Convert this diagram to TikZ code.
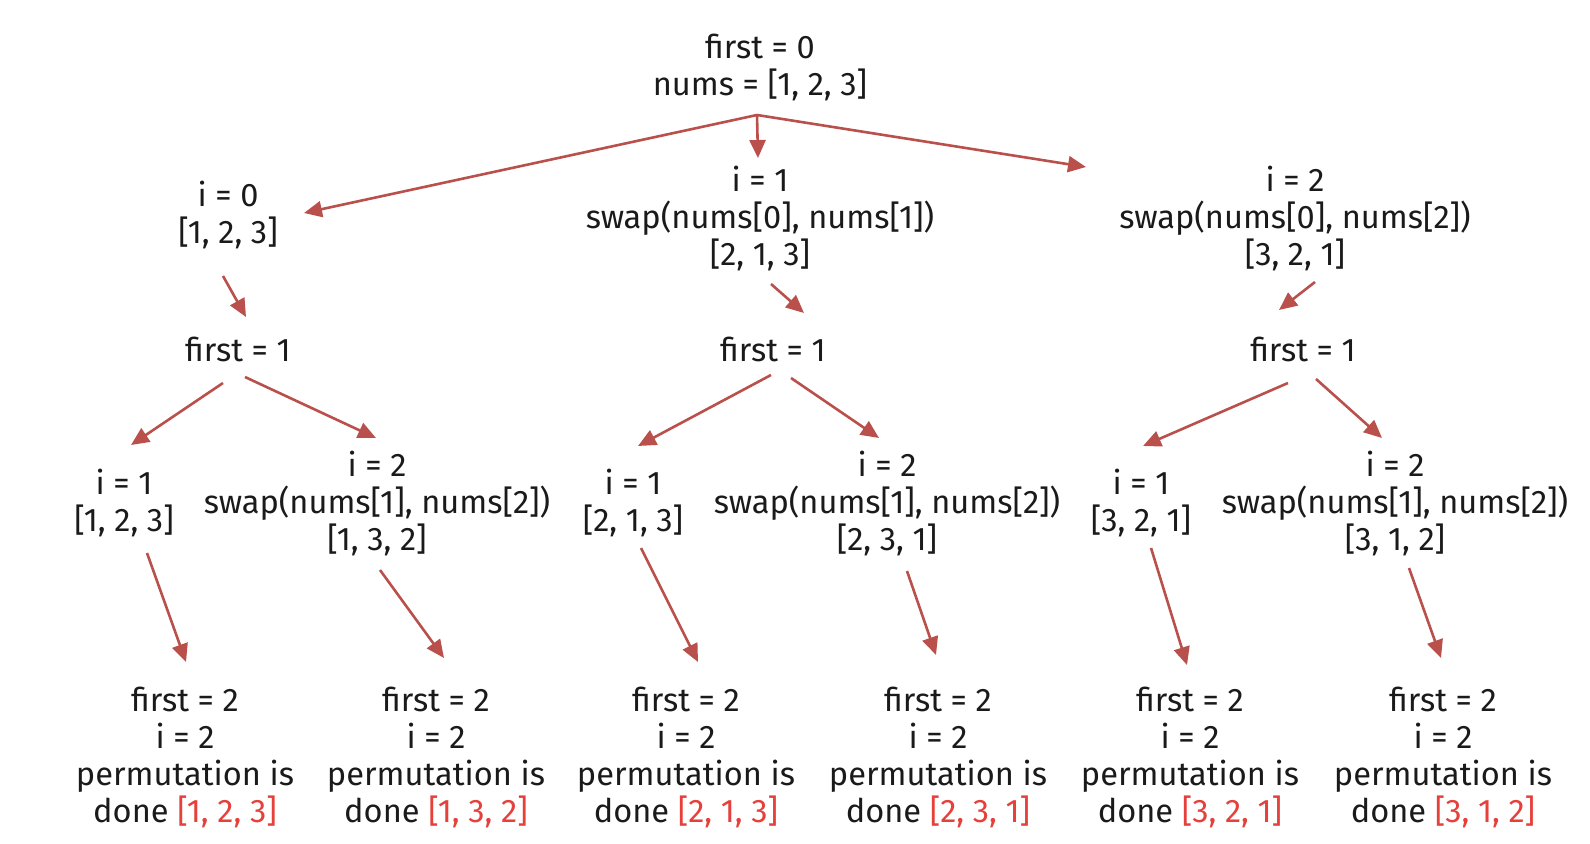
\documentclass[tikz,border=0pt]{standalone}
\usepackage{fontspec}
\setmainfont{Fira Sans}
\usetikzlibrary{arrows.meta}
\definecolor{arrowc}{HTML}{B9504B}
\definecolor{permred}{HTML}{E5403A}
\definecolor{txt}{HTML}{1A1A1A}
\begin{document}
\begin{tikzpicture}[x=0.5pt,y=-0.5pt,
  lbl/.style={inner sep=0pt,align=center,text=txt,font=\fontsize{16.3}{18.5}\selectfont},
  arr/.style={draw=arrowc,line width=1.3pt,-{Triangle[length=9pt,width=8pt]}}]
\useasboundingbox (0,0) rectangle (1590,844);
% nodes
\node[lbl] (top) at (760,67) {first = 0\\nums = [1, 2, 3]};
\node[lbl] (a) at (228,215) {i = 0\\[0pt][1, 2, 3]};
\node[lbl] (b) at (760,218) {i = 1\\swap(nums[0], nums[1])\\[0pt][2, 1, 3]};
\node[lbl] (c) at (1295,218) {i = 2\\swap(nums[0], nums[2])\\[0pt][3, 2, 1]};
\node[lbl] (fa) at (238,349) {first = 1};
\node[lbl] (fb) at (773,349) {first = 1};
\node[lbl] (fc) at (1303,349) {first = 1};
\node[lbl] (a1) at (124,503) {i = 1\\[0pt][1, 2, 3]};
\node[lbl] (a2) at (377,503) {i = 2\\swap(nums[1], nums[2])\\[0pt][1, 3, 2]};
\node[lbl] (b1) at (633,503) {i = 1\\[0pt][2, 1, 3]};
\node[lbl] (b2) at (887,503) {i = 2\\swap(nums[1], nums[2])\\[0pt][2, 3, 1]};
\node[lbl] (c1) at (1141,503) {i = 1\\[0pt][3, 2, 1]};
\node[lbl] (c2) at (1395,503) {i = 2\\swap(nums[1], nums[2])\\[0pt][3, 1, 2]};
\node[lbl] (p1) at (185,757) {first = 2\\i = 2\\permutation is\\done \textcolor{permred}{[1, 2, 3]}};
\node[lbl] (p2) at (436,757) {first = 2\\i = 2\\permutation is\\done \textcolor{permred}{[1, 3, 2]}};
\node[lbl] (p3) at (686,757) {first = 2\\i = 2\\permutation is\\done \textcolor{permred}{[2, 1, 3]}};
\node[lbl] (p4) at (938,757) {first = 2\\i = 2\\permutation is\\done \textcolor{permred}{[2, 3, 1]}};
\node[lbl] (p5) at (1190,757) {first = 2\\i = 2\\permutation is\\done \textcolor{permred}{[3, 2, 1]}};
\node[lbl] (p6) at (1443,757) {first = 2\\i = 2\\permutation is\\done \textcolor{permred}{[3, 1, 2]}};
% connector end points
\coordinate (t0) at (757,115);
\coordinate (ta) at (304,213);
\coordinate (tb) at (758,158);
\coordinate (tc) at (1086,167);
\coordinate (as) at (223,276); \coordinate (ae) at (246,317);
\coordinate (bs) at (771,284); \coordinate (be) at (804,313);
\coordinate (cs) at (1315,282); \coordinate (ce) at (1279,310);
\coordinate (fa1) at (223,383); \coordinate (ea1) at (131,445);
\coordinate (fa2) at (245,377); \coordinate (ea2) at (376,438);
\coordinate (fb1) at (771,375); \coordinate (eb1) at (638,446);
\coordinate (fb2) at (791,378); \coordinate (eb2) at (879,438);
\coordinate (fc1) at (1288,383); \coordinate (ec1) at (1143,446);
\coordinate (fc2) at (1316,379); \coordinate (ec2) at (1382,438);
\coordinate (s1) at (147,553); \coordinate (e1) at (186,662);
\coordinate (s2) at (380,570); \coordinate (e2) at (444,658);
\coordinate (s3) at (641,548); \coordinate (e3) at (698,662);
\coordinate (s4) at (907,571); \coordinate (e4) at (936,655);
\coordinate (s5) at (1151,548); \coordinate (e5) at (1187,665);
\coordinate (s6) at (1409,568); \coordinate (e6) at (1441,658);
% connectors
\draw[arr] (t0) -- (ta);
\draw[arr] (t0) -- (tb);
\draw[arr] (t0) -- (tc);
\draw[arr] (as) -- (ae);
\draw[arr] (bs) -- (be);
\draw[arr] (cs) -- (ce);
\draw[arr] (fa1) -- (ea1);
\draw[arr] (fa2) -- (ea2);
\draw[arr] (fb1) -- (eb1);
\draw[arr] (fb2) -- (eb2);
\draw[arr] (fc1) -- (ec1);
\draw[arr] (fc2) -- (ec2);
\draw[arr] (s1) -- (e1);
\draw[arr] (s2) -- (e2);
\draw[arr] (s3) -- (e3);
\draw[arr] (s4) -- (e4);
\draw[arr] (s5) -- (e5);
\draw[arr] (s6) -- (e6);
\end{tikzpicture}
\end{document}
